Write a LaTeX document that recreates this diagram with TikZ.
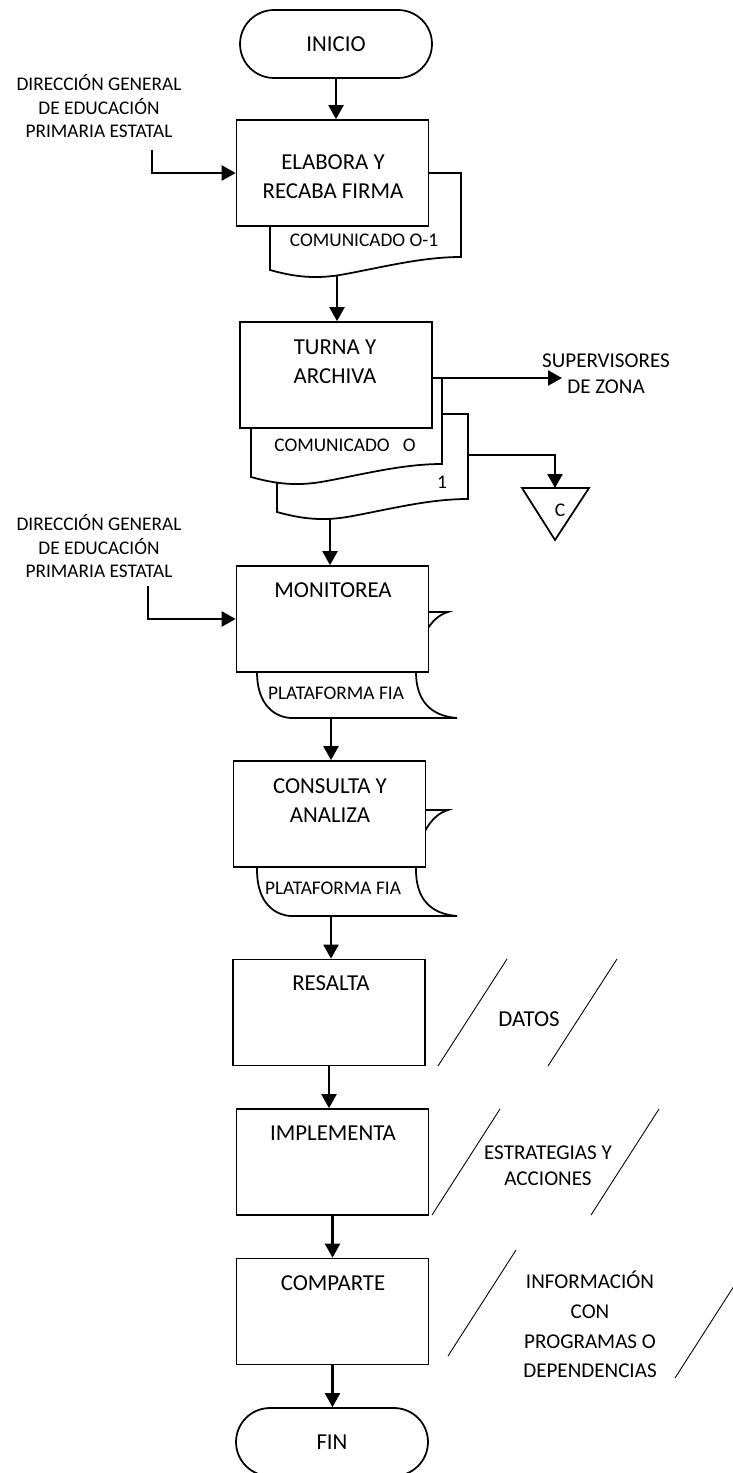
\documentclass[tikz,border=0pt]{standalone}
\usepackage{fontspec}
\setmainfont{Carlito}
\usepackage{tikz}
\usetikzlibrary{arrows.meta}

\begin{document}
\begin{tikzpicture}[x=0.02cm,y=-0.02cm,
   caja/.style={draw, line width=1pt, fill=white, minimum width=3.84cm, minimum height=2.12cm},
   term/.style={draw, line width=1pt, fill=white, rounded corners=0.68cm, minimum width=3.84cm, minimum height=1.36cm, font=\fontsize{13}{16}\selectfont},
   txt/.style={align=center, font=\fontsize{13}{16.5}\selectfont},
   etq/.style={align=center, font=\fontsize{11}{13.6}\selectfont},
   flecha/.style={line width=1.3pt, -{Triangle[length=0.28cm,width=0.3cm]}},
   hoja/.style={draw, line width=1pt, fill=white},
   diag/.style={line width=0.5pt}]
   \useasboundingbox (0,0) rectangle (733,1473);

   % inicio y primera caja
   \node[term] (inicio) at (336,44) {INICIO};
   \draw[hoja] (270,173) -- (270,270) .. controls (295,277) and (315,279) .. (340,275)
      .. controls (380,268) and (420,257) .. (461,257) -- (461,173) -- cycle;
   \node[caja] (elabora) at (332.5,173) {};
   \node[txt] (elabora-t) at (333,177) {ELABORA Y\\RECABA FIRMA};
   \node[etq] (com1) at (364,240) {COMUNICADO O-1};
   \node[etq] (dir1) at (99,106) {DIRECCI\'ON GENERAL\\DE EDUCACI\'ON\\PRIMARIA ESTATAL};
   \coordinate (d1) at (152,150);
   \coordinate (doc1) at (337,276);

   % turna y archiva
   \draw[hoja] (277,440) -- (277,512) .. controls (302,519) and (322,521) .. (347,517)
      .. controls (387,510) and (427,499) .. (468,499) -- (468,414) -- (277,414) -- cycle;
   \draw[hoja] (251,378) -- (251,477) .. controls (276,484) and (296,486) .. (321,482)
      .. controls (361,475) and (401,464) .. (442,464) -- (442,378) -- cycle;
   \node[caja] (turna) at (336,375) {};
   \node[txt] (turna-t) at (335,361.5) {TURNA Y\\ARCHIVA};
   \node[etq] (com2) at (345,445) {COMUNICADO\ \ \ O};
   \node[etq] (uno) at (442,482) {1};
   \node[align=center, font=\fontsize{12}{14.5}\selectfont] (super) at (606,373.5) {SUPERVISORES\\DE ZONA};
   \coordinate (s1) at (442,378);
   \coordinate (s2) at (468,455);
   \coordinate (arch) at (555,488);
   \draw[line width=1pt] (522,488) -- (589,488) -- (555,540) -- cycle;
   \node[etq] (c) at (560,510) {C};
   \coordinate (doc2) at (330,519);

   % monitorea
   \draw[hoja] (290,612) -- (448,612) .. controls (430,617) and (416,642) .. (416,672)
      .. controls (416,700) and (430,716) .. (457,718) -- (290,718)
      .. controls (270,716) and (257,700) .. (257,672) .. controls (257,642) and (270,617) .. cycle;
   \node[caja] (monitorea) at (332.5,619) {};
   \node[txt] (monitorea-t) at (333,590) {MONITOREA};
   \node[etq] (plat1) at (336,693) {PLATAFORMA FIA};
   \node[etq] (dir2) at (99,546) {DIRECCI\'ON GENERAL\\DE EDUCACI\'ON\\PRIMARIA ESTATAL};
   \coordinate (d2) at (148,586);
   \coordinate (p1) at (331,718);

   % consulta y analiza
   \draw[hoja] (290,810) -- (448,810) .. controls (430,815) and (416,840) .. (416,870)
      .. controls (416,898) and (430,914) .. (457,916) -- (290,916)
      .. controls (270,914) and (257,898) .. (257,870) .. controls (257,840) and (270,815) .. cycle;
   \node[caja] (consulta) at (329.5,814) {};
   \node[txt] (consulta-t) at (330,800.5) {CONSULTA Y\\ANALIZA};
   \node[etq] (plat2) at (333,888) {PLATAFORMA FIA};
   \coordinate (p2) at (331,916);

   % resalta
   \node[caja] (resalta) at (329,1012.5) {};
   \node[txt] (resalta-t) at (331,983) {RESALTA};
   \draw[diag] (507,959) -- (438,1066);
   \draw[diag] (617,959) -- (548,1066);
   \node[txt] (datos) at (529,1019) {DATOS};

   % implementa
   \node[caja] (implementa) at (332.5,1162) {};
   \node[txt] (implementa-t) at (333,1133) {IMPLEMENTA};
   \draw[diag] (500,1109) -- (432,1215);
   \draw[diag] (659,1109) -- (591,1215);
   \node[align=center, font=\fontsize{12}{14.7}\selectfont] (estrat) at (548,1166) {ESTRATEGIAS Y\\ACCIONES};

   % comparte y fin
   \node[caja] (comparte) at (332.5,1311.5) {};
   \node[txt] (comparte-t) at (333,1283) {COMPARTE};
   \draw[diag] (516,1250) -- (448,1356);
   \draw[diag] (743,1272) -- (675,1378);
   \node[align=center, font=\fontsize{12}{16.8}\selectfont] (info) at (590,1324.5) {INFORMACI\'ON\\CON\\PROGRAMAS O\\DEPENDENCIAS};
   \node[term] (fin) at (332,1442) {FIN};

   % conectores
   \draw[flecha] (inicio.south) -- (inicio.south |- elabora.north);
   \draw[flecha] (d1) |- (elabora.west);
   \draw[flecha] (doc1) -- (doc1 |- turna.north);
   \draw[flecha] (s1) -- (562,378);
   \draw[flecha] (s2) -| (arch);
   \draw[flecha] (doc2) -- (doc2 |- monitorea.north);
   \draw[flecha] (d2) |- (monitorea.west);
   \draw[flecha] (p1) -- (p1 |- consulta.north);
   \draw[flecha] (p2) -- (p2 |- resalta.north);
   \draw[flecha] (resalta.south) -- (resalta.south |- implementa.north);
   \draw[flecha] (implementa.south) -- (implementa.south |- comparte.north);
   \draw[flecha] (comparte.south) -- (comparte.south |- fin.north);
\end{tikzpicture}
\end{document}
